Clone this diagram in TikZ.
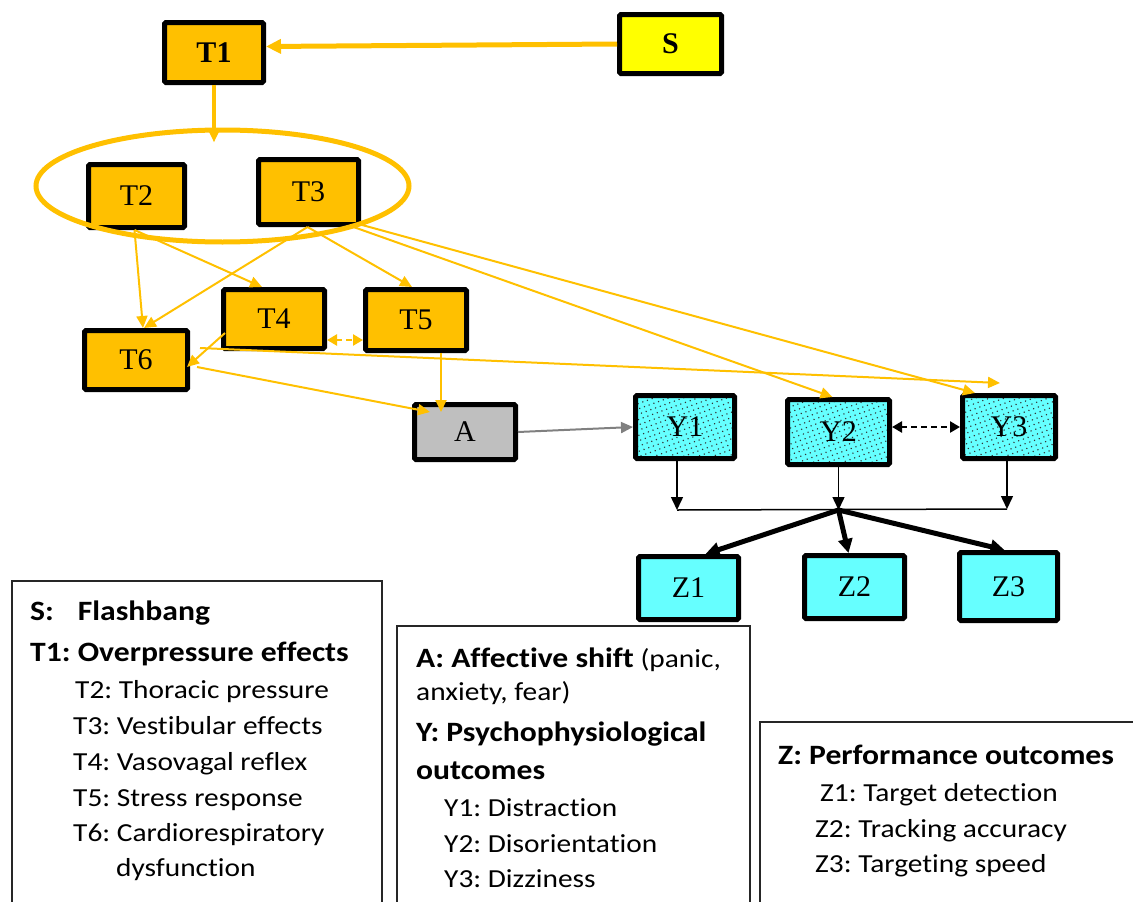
\documentclass[tikz,border=0pt]{standalone}
\usepackage{fontspec}
\setmainfont{Liberation Serif}
\newfontfamily\legendfont[Ligatures=NoCommon, FakeStretch=1.13]{Carlito}
\usetikzlibrary{arrows.meta,shapes.geometric,patterns.meta}
\definecolor{amber}{HTML}{FFC000}
\definecolor{aqua}{HTML}{66FFFF}
\definecolor{sunny}{HTML}{FFFF00}
\definecolor{ash}{HTML}{BFBFBF}
\definecolor{slate}{HTML}{808080}

\begin{document}
\frenchspacing
\begin{tikzpicture}[x=1pt,y=-1pt,
  box/.style={draw=black, line width=5pt, rounded corners=1.5pt, inner sep=0pt,
    font=\fontsize{30}{30}\selectfont},
  tbox/.style={box, fill=amber},
  sbox/.style={box, fill=sunny, font=\fontsize{30}{30}\selectfont\bfseries},
  abox/.style={box, fill=ash},
  ybox/.style={box, preaction={fill=aqua},
    pattern={Dots[distance=5pt, radius=0.8pt, angle=20]}, pattern color=black!80},
  zbox/.style={box, fill=aqua},
  link/.style={amber, line width=2pt, -{Triangle[length=12pt,width=11pt]}},
  biglink/.style={amber, line width=5pt, -{Triangle[length=15pt,width=14pt]}},
  pair/.style={line width=2.5pt, dash pattern=on 6pt off 4pt,
    {Triangle[length=10pt,width=11pt]}-{Triangle[length=10pt,width=11pt]}},
  feed/.style={black, line width=1.5pt, -{Triangle[length=13pt,width=12pt]}},
  outlink/.style={black, line width=5pt, -{Triangle[length=14pt,width=14pt]}},
  legbox/.style={draw=black!85, line width=2pt},
  leghead/.style={anchor=base west, inner sep=0pt, font=\legendfont\fontsize{28}{28}\selectfont\bfseries},
  legitem/.style={anchor=base west, inner sep=0pt, font=\legendfont\fontsize{26}{26}\selectfont},
]
\useasboundingbox (0,0) rectangle (1133,902);
\clip (0,0) rectangle (1133,902);

% ---- boxes of the causal chain ----
\node[sbox, minimum width=102pt, minimum height=59pt] (S)  at (670.5,44) {S};
\node[tbox, minimum width=99pt,  minimum height=60pt, font=\fontsize{30}{30}\selectfont\bfseries] (T1) at (214,52.5) {T1};
\node[tbox, minimum width=96pt,  minimum height=63pt] (T2) at (136.5,196) {T2};
\node[tbox, minimum width=100pt, minimum height=65pt] (T3) at (308.5,192) {T3};
\node[tbox, minimum width=101pt, minimum height=59pt] (T4) at (274,319) {T4};
\node[tbox, minimum width=101pt, minimum height=61pt] (T5) at (416,320) {T5};
\node[tbox, minimum width=103pt, minimum height=59pt] (T6) at (136,360) {T6};
\node[abox, minimum width=101pt, minimum height=55pt] (A)  at (465,432) {A};
\node[ybox, minimum width=99pt,  minimum height=63pt] (Y1) at (685,427) {Y1};
\node[ybox, minimum width=102pt, minimum height=65pt] (Y2) at (838.5,432) {Y2};
\node[ybox, minimum width=93pt,  minimum height=63pt] (Y3) at (1009,427) {Y3};
\node[zbox, minimum width=100pt, minimum height=63pt] (Z1) at (688.5,588) {Z1};
\node[zbox, minimum width=100pt, minimum height=63pt] (Z2) at (854.5,587) {Z2};
\node[zbox, minimum width=98pt,  minimum height=68pt] (Z3) at (1008.5,586.5) {Z3};

% grouping ring round T2 and T3
\node[draw=amber, line width=5pt, ellipse, minimum width=373pt, minimum height=112pt,
  inner sep=0pt] (grp) at (222.5,186) {};

% ---- connectors ----
\draw[biglink] (S.west) -- ([yshift=6pt]T1.east);
\draw[amber, line width=4pt, -{Triangle[length=14pt,width=12pt]}]
  (T1.south) -- ([yshift=-15pt]T1.south |- grp.north);

\draw[link] ([xshift=-2pt]T2.south) -- ([xshift=7pt]T6.north);
\draw[link] ([xshift=-2pt]T2.south) -- ([xshift=-12pt]T4.north);
\draw[link] ([xshift=-1pt]T3.south) -- ([xshift=8pt]T6.north);
\draw[link] ([xshift=-1pt]T3.south) -- ([xshift=-4pt]T5.north);
\draw[link] ([xshift=45pt]T3.south) -- ([xshift=-6pt]Y2.north);
\draw[link] ([xshift=50pt,yshift=3pt]T3.south) -- ([xshift=-34pt]Y3.north);
\draw[link] ([xshift=4pt,yshift=18pt]T4.south west) -- ([xshift=-3pt,yshift=-7pt]T6.east);
\draw[link] ([xshift=10pt,yshift=12pt]T6.east) -- ([xshift=-9pt,yshift=10pt]Y3.north);
\draw[link] ([xshift=7pt,yshift=-7pt]T6.east) -- ([xshift=18pt,yshift=-10pt]A.north west);
\draw[link] ([xshift=25pt]T5.south) -- ([xshift=-24pt,yshift=-10pt]A.north);
\draw[pair, amber] ([yshift=-21pt]T4.east) -- ([yshift=-20pt]T5.west);

\draw[slate, line width=2pt, -{Triangle[length=12pt,width=11pt]}] (A.east) -- (Y1.west);
\draw[pair, black] (Y2.east |- Y3.west) -- (Y3.west);

\coordinate (jl) at (677,510);
\coordinate (jc) at (838.5,510);
\coordinate (jr) at (1007,509);
\draw[feed] ([xshift=-8pt]Y1.south) -- (jl);
\draw[feed] (Y2.south) -- (jc);
\draw[feed] ([xshift=-2pt]Y3.south) -- (jr);
\draw[black, line width=1.5pt] (jl) -- (jr);
\draw[outlink] (jc) -- ([xshift=17pt]Z1.north);
\draw[outlink] (jc) -- ([xshift=-6pt]Z2.north);
\draw[outlink] (jc) -- ([xshift=-4pt]Z3.north);

% ---- legends ----
\draw[legbox] (12,581) rectangle (382,920);
\node[leghead] (lS)  at (30,620) {S:\hspace{24pt}Flashbang};
\node[leghead] (lT1) at (30,661) {T1: Overpressure effects};
\node[legitem] (lT2) at (75,698) {T2: Thoracic pressure};
\node[legitem] (lT3) at (73,734) {T3: Vestibular effects};
\node[legitem] (lT4) at (73,770) {T4: Vasovagal reflex};
\node[legitem] (lT5) at (73,806) {T5: Stress response};
\node[legitem] (lT6) at (73,841) {T6: Cardiorespiratory};
\node[legitem] (lT6b) at (116,876) {dysfunction};

\draw[legbox] (397,626) rectangle (750,920);
\node[legitem] (lA)  at (416,667) {\textbf{\fontsize{28}{28}\selectfont A: Affective shift} (panic,};
\node[legitem] (lA2) at (416,700) {anxiety, fear)};
\node[leghead] (lY)  at (416,741) {Y: Psychophysiological};
\node[leghead] (lY0) at (416,779) {outcomes};
\node[legitem] (lY1) at (444,816) {Y1: Distraction};
\node[legitem] (lY2) at (444,852) {Y2: Disorientation};
\node[legitem] (lY3) at (444,887) {Y3: Dizziness};

\draw[legbox] (760,722) rectangle (1150,920);
\node[leghead] (lZ)  at (778,764) {Z: Performance outcomes};
\node[legitem] (lZ1) at (820,801) {Z1: Target detection};
\node[legitem] (lZ2) at (815,837) {Z2: Tracking accuracy};
\node[legitem] (lZ3) at (815,872) {Z3: Targeting speed};
\end{tikzpicture}
\end{document}
